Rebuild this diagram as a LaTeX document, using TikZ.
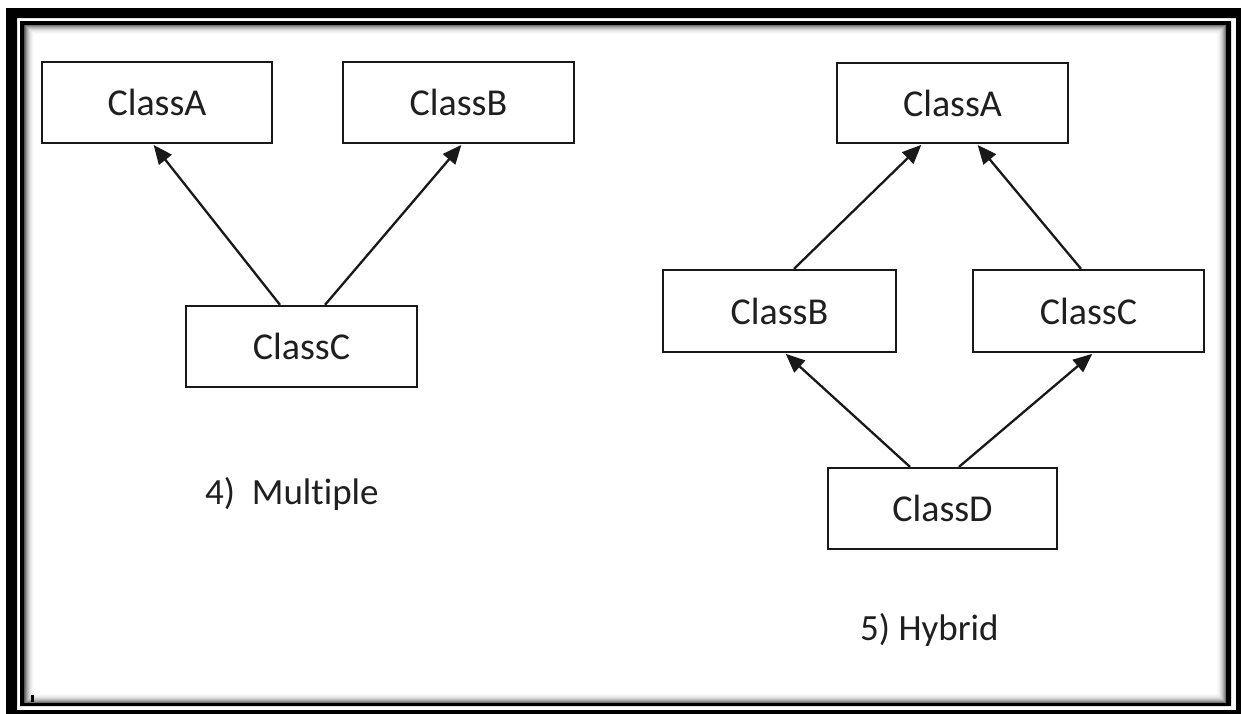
\documentclass[tikz,border=0pt]{standalone}
\usepackage{fontspec}
\setmainfont[Ligatures=NoCommon]{Carlito}
\usetikzlibrary{arrows.meta}

\tikzset{
  classbox/.style={draw=black!90, line width=2.3pt, fill=white, inner sep=0pt,
    minimum width=231pt, minimum height=81pt,
    font=\fontsize{38}{40}\selectfont, text=black!88},
  inherit/.style={draw=black!90, line width=2.3pt,
    -{Triangle[length=19pt,width=16pt]}, shorten >=1pt},
  caption/.style={anchor=base west, inner sep=0pt,
    font=\fontsize{37}{40}\selectfont, text=black!88}
}

\begin{document}
\begin{tikzpicture}[x=1pt, y={(0pt,-1pt)}]
  \useasboundingbox (0,0) rectangle (1241,713);
  \fill[white] (0,0) rectangle (1241,713);

  % outer heavy frame
  \fill[black, even odd rule] (6,8) rectangle (1260,730) (17,18) rectangle (1236,710);
  % thin inner frame
  \fill[black, even odd rule] (20,21) rectangle (1231,706) (24.5,25) rectangle (1226,703);
  % soft inner shadow along the frame
  \foreach \i/\c in {0/55,1/42,2/32,3/24,4/17,5/11,6/7,7/4,8/2}{
    \draw[black!\c, line width=1pt] (25+\i,25.5+\i) rectangle (1225.5-\i,702.5-\i);
  }
  % small speck near the bottom-left corner
  \fill[black] (30.5,695) rectangle (34,702);

  % ---- multiple inheritance ----
  \node[classbox, minimum width=230pt] (mA) at (157,102.5) {ClassA};
  \node[classbox] (mB) at (458.5,102.5) {ClassB};
  \node[classbox] (mC) at (301.5,346.5) {ClassC};
  \draw[inherit] ([xshift=-21.5pt]mC.north) -- ([xshift=-4pt]mA.south);
  \draw[inherit] ([xshift=23.5pt]mC.north) -- ([xshift=3.5pt]mB.south);
  \node[caption] (mcap) at (205,504) {4)\ \ Multiple};

  % ---- hybrid inheritance ----
  \node[classbox, minimum height=80pt] (hA) at (952.5,103) {ClassA};
  \node[classbox, minimum width=233pt, minimum height=82pt] (hB) at (779.5,311) {ClassB};
  \node[classbox, minimum height=82pt] (hC) at (1088.5,311) {ClassC};
  \node[classbox, minimum width=229pt] (hD) at (942.5,508.5) {ClassD};
  \draw[inherit] ([xshift=14.5pt]hB.north) -- ([xshift=-30.5pt]hA.south);
  \draw[inherit] ([xshift=-7.5pt]hC.north) -- ([xshift=24.5pt]hA.south);
  \draw[inherit] ([xshift=-32.5pt]hD.north) -- ([xshift=5.5pt]hB.south);
  \draw[inherit] ([xshift=16.5pt]hD.north) -- ([xshift=4.5pt]hC.south);
  \node[caption] (hcap) at (860,640) {5) Hybrid};
\end{tikzpicture}
\end{document}
